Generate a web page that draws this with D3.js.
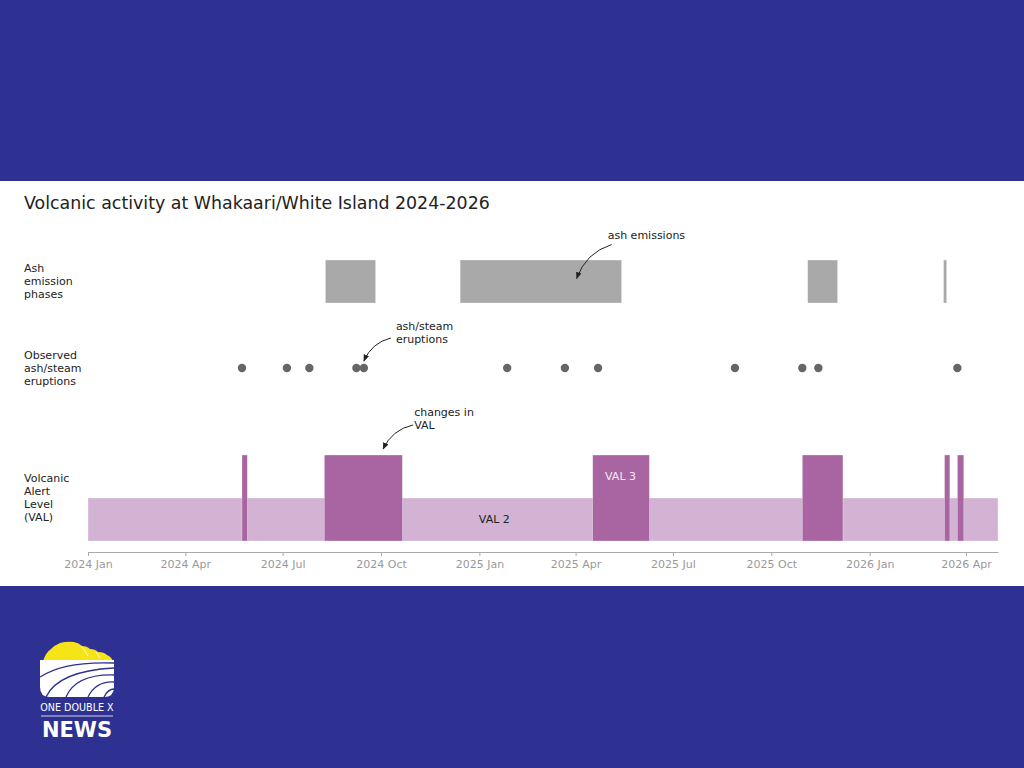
<!DOCTYPE html>
<html>
<head>
<meta charset="utf-8">
<script src="https://cdn.jsdelivr.net/npm/d3@7"></script>
<style>
  body { margin: 0; background: #2e3192; }
  svg { display: block; font-family: "DejaVu Sans", sans-serif; }
</style>
</head>
<body>
<svg id="chart" width="1024" height="768"></svg>
<script>
// Data
const ashPhases = [
  ["2024-08-10", "2024-09-26"],
  ["2024-12-14", "2025-05-14"],
  ["2025-11-04", "2025-12-02"],
  ["2026-03-11", "2026-03-14"]
];
const eruptionDates = [
  "2024-05-24", "2024-07-05", "2024-07-26", "2024-09-08", "2024-09-15",
  "2025-01-27", "2025-03-22", "2025-04-22", "2025-08-28", "2025-10-30",
  "2025-11-14", "2026-03-24"
];
// VAL periods: start, end, level
const valPeriods = [
  ["2024-01-01", "2026-05-01", 2],
  ["2024-05-24", "2024-05-29", 3],
  ["2024-08-09", "2024-10-21", 3],
  ["2025-04-17", "2025-06-09", 3],
  ["2025-10-30", "2025-12-07", 3],
  ["2026-03-12", "2026-03-17", 3],
  ["2026-03-24", "2026-03-30", 3]
];
const valLabels = [["VAL 2", "2025-01-15", 2], ["VAL 3", "2025-05-13", 3]];
const rowLabels = [
  ["ash", ["Ash", "emission", "phases"]],
  ["eruptions", ["Observed", "ash/steam", "eruptions"]],
  ["val", ["Volcanic", "Alert", "Level", "(VAL)"]]
];
// annotation text, target date, row
const annotations = [
  [["ash emissions"], "2025-04-02", "ash"],
  [["ash/steam", "eruptions"], "2024-09-15", "eruptions"],
  [["changes in", "VAL"], "2024-10-03", "val"]
];
const domainDates = ["2024-01-01", "2026-05-01"];

const parse = d3.utcParse("%Y-%m-%d");

// Layout
const W = 1024, H = 768;
const panelTop = 181, panelBottom = 586;
const left = 88, right = 998;
const axisY = 552;
const trackY = { ash: 281.5, eruptions: 368, val: 498 };
const ashH = 43;

const svg = d3.select("#chart");

// Background and white panel
svg.append("rect").attr("width", W).attr("height", H).attr("fill", "#2e3192");
svg.append("rect").attr("y", panelTop).attr("width", W).attr("height", panelBottom - panelTop).attr("fill", "#fff");

// Scales
const x = d3.scaleUtc().domain(domainDates.map(parse)).range([left, right]);
const yVal = d3.scaleLinear().domain([1, 3]).range([541, 455]);

// Title
svg.append("text")
  .attr("x", 24).attr("y", 209)
  .attr("font-size", 17.4)
  .attr("fill", "#222")
  .text("Volcanic activity at Whakaari/White Island 2024-2026");

// Row labels
const lineH = 13;
rowLabels.forEach(([row, lines]) => {
  const t = svg.append("text")
    .attr("x", 24)
    .attr("font-size", 11)
    .attr("fill", "#222");
  const y0 = trackY[row] - (lines.length - 1) * lineH / 2;
  lines.forEach((l, i) => {
    t.append("tspan").attr("x", 24).attr("y", y0 + i * lineH).attr("dy", "0.35em").text(l);
  });
});

// Ash emission phases
svg.append("g").selectAll("rect")
  .data(ashPhases)
  .join("rect")
  .attr("x", d => x(parse(d[0])))
  .attr("width", d => x(parse(d[1])) - x(parse(d[0])))
  .attr("y", trackY.ash - ashH / 2)
  .attr("height", ashH)
  .attr("fill", "#a9a9a9")
  .attr("stroke", "#fff").attr("stroke-opacity", 0.5).attr("stroke-width", 0.6);

// Eruptions
svg.append("g").selectAll("circle")
  .data(eruptionDates)
  .join("circle")
  .attr("cx", d => x(parse(d)))
  .attr("cy", trackY.eruptions)
  .attr("r", 4.2)
  .attr("fill", "#666");

// VAL periods
svg.append("g").selectAll("rect")
  .data(valPeriods)
  .join("rect")
  .attr("x", d => x(parse(d[0])))
  .attr("width", d => x(parse(d[1])) - x(parse(d[0])))
  .attr("y", d => yVal(d[2]))
  .attr("height", d => yVal(1) - yVal(d[2]))
  .attr("fill", d => d[2] === 3 ? "#a865a1" : "#d3b3d3")
  .attr("stroke", "#fff").attr("stroke-opacity", 0.5).attr("stroke-width", 0.6);

// VAL labels
svg.append("g").selectAll("text")
  .data(valLabels)
  .join("text")
  .attr("x", d => x(parse(d[1])))
  .attr("y", d => (yVal(d[2]) + yVal(d[2] - 1)) / 2)
  .attr("dy", "0.35em")
  .attr("text-anchor", "middle")
  .attr("font-size", 11)
  .attr("fill", d => d[2] === 3 ? "#f4eaf4" : "#222")
  .text(d => d[0]);

// X axis
const axis = svg.append("g")
  .attr("transform", `translate(0,${axisY})`)
  .call(d3.axisBottom(x)
    .ticks(d3.utcMonth.every(3))
    .tickFormat(d3.utcFormat("%Y %b"))
    .tickSize(4)
    .tickSizeOuter(0));
axis.select(".domain").attr("stroke", "#aaa");
axis.selectAll(".tick line").attr("stroke", "#aaa");
axis.selectAll(".tick text")
  .attr("fill", "#999")
  .attr("font-size", 11)
  .attr("font-family", "DejaVu Sans, sans-serif")
  .attr("y", 8);

// Annotations with curved arrows
svg.append("defs").append("marker")
  .attr("id", "head")
  .attr("viewBox", "0 0 10 10")
  .attr("refX", 9).attr("refY", 5)
  .attr("markerWidth", 7).attr("markerHeight", 7)
  .attr("markerUnits", "userSpaceOnUse")
  .attr("orient", "auto")
  .append("path")
  .attr("d", "M0,1 L10,5 L0,9 Z")
  .attr("fill", "#222");

const targetY = {
  ash: trackY.ash - 3,
  eruptions: trackY.eruptions - 7,
  val: yVal(3) - 6
};
const annOffset = {   // text offset and arrow start, relative to target
  ash: { tx: 31, ty: -43, sx: 35, sy: -34 },
  eruptions: { tx: 32, ty: -35, sx: 27, sy: -23 },
  val: { tx: 31, ty: -37, sx: 30, sy: -24 }
};

annotations.forEach(([lines, date, row]) => {
  const ex = x(parse(date)), ey = targetY[row];
  const o = annOffset[row];
  const sx = ex + o.sx, sy = ey + o.sy;
  const mx = (sx + ex) / 2, my = (sy + ey) / 2;
  const dx = ex - sx, dy = ey - sy, r = 0.25;
  const cx = mx - r * dy, cy = my + r * dx;
  svg.append("path")
    .attr("d", `M${sx},${sy} Q${cx},${cy} ${ex},${ey}`)
    .attr("fill", "none")
    .attr("stroke", "#222")
    .attr("stroke-width", 1)
    .attr("marker-end", "url(#head)");
  const t = svg.append("text")
    .attr("font-size", 11)
    .attr("fill", "#222");
  lines.forEach((l, i) => {
    t.append("tspan")
      .attr("x", ex + o.tx)
      .attr("y", ey + o.ty + i * lineH)
      .attr("dy", "0.35em")
      .text(l);
  });
});

// Logo
const logo = svg.append("g").attr("transform", "translate(40,641)");
logo.append("path")
  .attr("d", "M3,21 Q5,12 11,8 Q15,4 20,2 Q27,0 34,1 Q39,2 42,5 Q47,5 50,8 Q55,8 58,11 Q64,11 67,14 Q72,16 73,21 L3,21 Z")
  .attr("fill", "#f7e418");
logo.append("path")
  .attr("d", "M0,19 H74 V46 Q74,56 64,56 H10 Q0,56 0,46 Z")
  .attr("fill", "#fff");
logo.selectAll("path.ridge")
  .data(["M41,5 Q45,9 48,15", "M56,11 Q58,14 60,17"])
  .join("path")
  .attr("class", "ridge")
  .attr("d", d => d)
  .attr("fill", "none").attr("stroke", "#fff").attr("stroke-width", 0.8);
logo.selectAll("path.road")
  .data([
    "M0,36 Q24,20 74,22",
    "M6,56 Q18,30 74,27",
    "M26,56 Q36,33 74,34",
    "M48,56 Q56,40 74,41",
    "M64,56 Q68,48 74,48"
  ])
  .join("path")
  .attr("class", "road")
  .attr("d", d => d)
  .attr("fill", "none")
  .attr("stroke", "#2e3192")
  .attr("stroke-width", 1.3);
logo.append("text")
  .attr("x", 37).attr("y", 70)
  .attr("text-anchor", "middle")
  .attr("font-family", "DejaVu Sans, sans-serif")
  .attr("font-size", 9.6)
  .attr("fill", "#fff")
  .text("ONE DOUBLE X");
logo.append("line")
  .attr("x1", 1).attr("x2", 73).attr("y1", 75).attr("y2", 75)
  .attr("stroke", "#fff").attr("stroke-width", 0.8);
logo.append("text")
  .attr("x", 37).attr("y", 96)
  .attr("text-anchor", "middle")
  .attr("font-family", "DejaVu Sans, sans-serif")
  .attr("font-weight", "bold")
  .attr("font-size", 21)
  .attr("fill", "#fff")
  .text("NEWS");
</script>
</body>
</html>
